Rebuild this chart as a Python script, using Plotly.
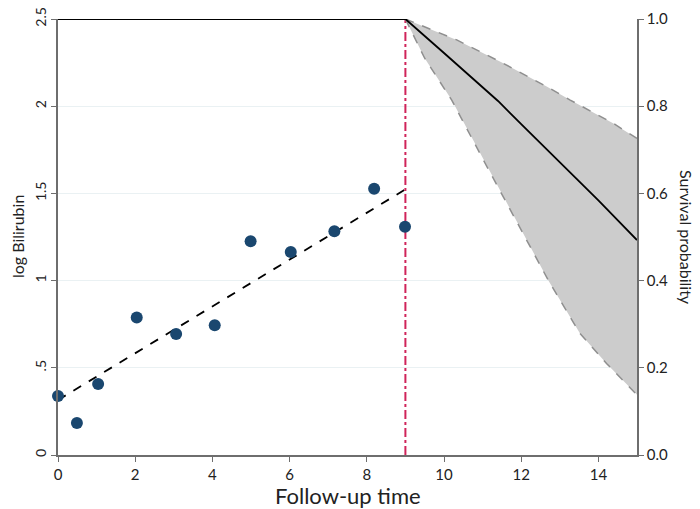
import plotly.graph_objects as go

# Longitudinal biomarker data
time = [0.0, 0.49, 1.04, 2.04, 3.06, 4.06, 4.99, 6.03, 7.16, 8.19, 8.99]
log_bili = [0.338, 0.183, 0.407, 0.789, 0.694, 0.744, 1.225, 1.164, 1.283, 1.527, 1.309]

# Fitted trajectory
fit_time = [0.0, 9.0]
fit_value = [0.315, 1.523]

# Landmark time
landmark = 9.0

# Predicted survival
surv_time = [0.0, 9.0, 10.0, 11.0, 11.4, 12.0, 13.0, 14.0, 15.0]
surv_prob = [1.0, 1.0, 0.922, 0.843, 0.812, 0.759, 0.671, 0.584, 0.493]

ci_up_time = [9.0, 10.33, 11.5, 12.66, 13.27, 14.38, 15.0]
ci_up = [1.0, 0.952, 0.90, 0.845, 0.814, 0.761, 0.726]
ci_lo_time = [9.0, 9.5, 10.2, 11.0, 12.14, 12.7, 13.52, 14.21, 15.0]
ci_lo = [1.0, 0.91, 0.814, 0.68, 0.493, 0.401, 0.279, 0.21, 0.138]

x_ticks = [0, 2, 4, 6, 8, 10, 12, 14]
y_ticks = [0, 0.5, 1, 1.5, 2, 2.5]
y_ticktext = ["0", ".5", "1", "1.5", "2", "2.5"]
y2_ticks = [0, 0.2, 0.4, 0.6, 0.8, 1.0]

FONT = "Lato"
AXIS_COL = "#6e6e6e"

fig = go.Figure()

# CI band
fig.add_trace(go.Scatter(
    x=ci_up_time + ci_lo_time[::-1], y=ci_up + ci_lo[::-1],
    yaxis="y2", fill="toself", fillcolor="#cccccc", mode="lines",
    line=dict(color="rgba(0,0,0,0)", width=0), hoverinfo="skip", showlegend=False))
fig.add_trace(go.Scatter(x=ci_up_time, y=ci_up, yaxis="y2", mode="lines",
                         line=dict(color="#8f8f8f", width=1.5, dash="dash"), showlegend=False))
fig.add_trace(go.Scatter(x=ci_lo_time, y=ci_lo, yaxis="y2", mode="lines",
                         line=dict(color="#8f8f8f", width=1.5, dash="dash"), showlegend=False))
# Survival line
fig.add_trace(go.Scatter(x=surv_time, y=surv_prob, yaxis="y2", mode="lines",
                         line=dict(color="black", width=1.8), showlegend=False))

# Fitted line
fig.add_trace(go.Scatter(x=fit_time, y=fit_value, mode="lines",
                         line=dict(color="black", width=1.8, dash="dash"), showlegend=False))
# Landmark vertical line
fig.add_trace(go.Scatter(x=[landmark, landmark], y=[0, 2.5], mode="lines",
                         line=dict(color="#d0245a", width=2, dash="dashdot"), showlegend=False))
# Observed points
fig.add_trace(go.Scatter(x=time, y=log_bili, mode="markers",
                         marker=dict(color="#1a476f", size=12), cliponaxis=False,
                         showlegend=False))

# page body has an 8px margin, so the figure is offset by (8, 8)
fig.update_layout(
    width=692, height=501,
    margin=dict(l=50, r=63, t=11, b=54),
    paper_bgcolor="white", plot_bgcolor="white",
    font=dict(family=FONT, size=14, color="#222222"),
    xaxis=dict(range=[0, 15], tickvals=x_ticks, showgrid=False, zeroline=False,
               showline=True, linecolor=AXIS_COL, linewidth=1.5, automargin=False,
               ticks="outside", ticklen=5, tickcolor=AXIS_COL,
               tickfont=dict(size=15, family=FONT)),
    yaxis=dict(range=[0, 2.5], tickvals=y_ticks, ticktext=y_ticktext, tickangle=-90,
               showgrid=True, gridcolor="#eaf1f3", gridwidth=1.2, zeroline=False,
               showline=True, linecolor=AXIS_COL, linewidth=1.5, automargin=False,
               ticks="outside", ticklen=5, tickcolor=AXIS_COL, ticklabeloverflow="allow",
               tickfont=dict(size=14, family=FONT)),
    yaxis2=dict(range=[0, 1], overlaying="y", side="right", tickvals=y2_ticks,
                tickformat=".1f", showgrid=False, zeroline=False, automargin=False,
                showline=True, linecolor=AXIS_COL, linewidth=1.5,
                ticks="outside", ticklen=5, tickcolor=AXIS_COL,
                tickfont=dict(size=15, family=FONT)),
    annotations=[
        dict(text="Survival probability", textangle=90, xref="paper", yref="paper",
             x=1.0, y=0.5, xanchor="center", yanchor="middle", xshift=50,
             showarrow=False, font=dict(size=16, family=FONT)),
        dict(text="log Bilirubin", textangle=-90, xref="paper", yref="paper",
             x=0.0, y=0.5, xanchor="center", yanchor="middle", xshift=-41,
             showarrow=False, font=dict(size=16, family=FONT)),
        dict(text="Follow-up time", xref="paper", yref="paper",
             x=0.5, y=0.0, xanchor="center", yanchor="middle", yshift=-40,
             showarrow=False, font=dict(size=22, family=FONT)),
    ],
)

fig.write_html("out.html")
